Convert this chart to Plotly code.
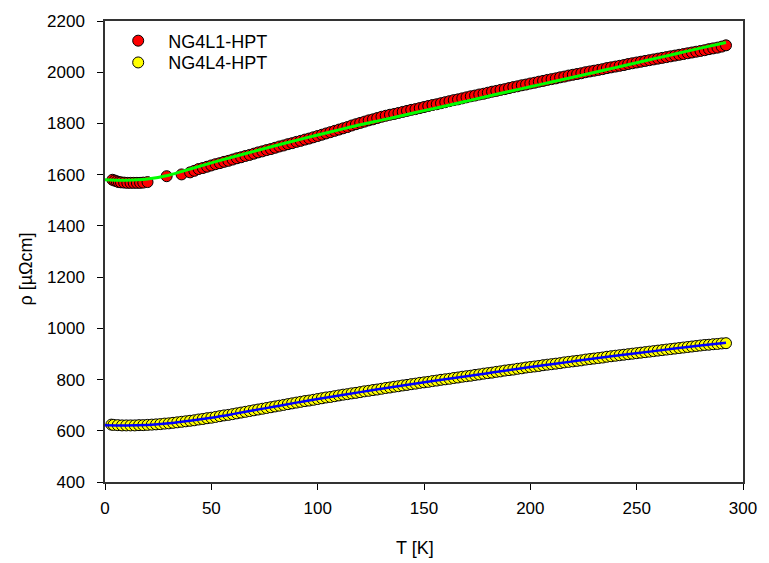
import plotly.graph_objects as go

# ---- Data ----
# NG4L1-HPT measured points
t_l1 = [3.5, 4.5, 5.5, 6.5, 7.5, 9, 10.5, 12, 13.5, 15, 16.5, 18, 20,
        29, 36, 40, 42,
        44, 46, 48, 50, 52, 54, 56, 58, 60, 62, 64, 66, 68, 70, 72, 74, 76, 78,
        80, 82, 84, 86, 88, 90, 92, 94, 96, 98, 100, 102, 104, 106, 108, 110,
        112, 114, 116, 118, 120, 122, 124, 126, 128, 130, 132, 134, 136, 138,
        140, 142, 144, 146, 148, 150, 152, 154, 156, 158, 160, 162, 164, 166,
        168, 170, 172, 174, 176, 178, 180, 182, 184, 186, 188, 190, 192, 194,
        196, 198, 200, 202, 204, 206, 208, 210, 212, 214, 216, 218, 220, 222,
        224, 226, 228, 230, 232, 234, 236, 238, 240, 242, 244, 246, 248, 250,
        252, 254, 256, 258, 260, 262, 264, 266, 268, 270, 272, 274, 276, 278,
        280, 282, 284, 286, 288, 290, 292]
rho_l1 = [1580, 1577, 1574, 1571, 1570, 1569, 1568, 1568, 1568, 1568, 1568, 1569, 1571,
          1594, 1601, 1609, 1615,
          1622, 1626, 1631, 1636, 1641, 1645, 1650, 1654, 1659, 1664, 1668, 1673,
          1677, 1682, 1687, 1691, 1696, 1700, 1705, 1710, 1714, 1719, 1723, 1728,
          1732, 1737, 1741, 1746, 1751, 1756, 1761, 1766, 1771, 1776, 1781, 1786,
          1792, 1797, 1802, 1807, 1812, 1816, 1821, 1826, 1830, 1834, 1837, 1841,
          1845, 1849, 1853, 1856, 1860, 1864, 1868, 1872, 1875, 1879, 1883, 1887,
          1891, 1894, 1898, 1902, 1906, 1909, 1913, 1916, 1920, 1924, 1927, 1931,
          1934, 1938, 1942, 1945, 1949, 1952, 1956, 1959, 1963, 1966, 1970, 1973,
          1976, 1980, 1983, 1987, 1990, 1993, 1996, 2000, 2003, 2006, 2009, 2012,
          2016, 2019, 2022, 2025, 2028, 2032, 2035, 2038, 2041, 2044, 2047, 2050,
          2053, 2056, 2059, 2062, 2065, 2068, 2071, 2074, 2077, 2080, 2083, 2086,
          2090, 2093, 2096, 2100, 2105]

# NG4L1-HPT fit curve
t_fit1 = [0, 10, 20, 30, 40, 50, 60, 70, 80, 90, 100, 110, 120, 130, 140, 150,
          160, 170, 180, 190, 200, 210, 220, 230, 240, 250, 260, 270, 280, 292]
rho_fit1 = [1580, 1578, 1583, 1598, 1622, 1646, 1669, 1691, 1713, 1734, 1755,
            1775, 1795, 1813, 1831, 1850, 1868, 1887, 1906, 1925, 1943, 1962,
            1980, 1999, 2018, 2037, 2056, 2075, 2094, 2116]

# NG4L4-HPT measured points
t_l4 = [3, 4, 6, 8, 10, 12, 14, 16, 18, 20, 22, 24, 26, 28, 30, 32, 34, 36, 38,
        40, 42, 44, 46, 48, 50, 52, 54, 56, 58, 60, 62, 64, 66, 68, 70, 72, 74,
        76, 78, 80, 82, 84, 86, 88, 90, 92, 94, 96, 98, 100, 102, 104, 106, 108,
        110, 112, 114, 116, 118, 120, 122, 124, 126, 128, 130, 132, 134, 136,
        138, 140, 142, 144, 146, 148, 150, 152, 154, 156, 158, 160, 162, 164,
        166, 168, 170, 172, 174, 176, 178, 180, 182, 184, 186, 188, 190, 192,
        194, 196, 198, 200, 202, 204, 206, 208, 210, 212, 214, 216, 218, 220,
        222, 224, 226, 228, 230, 232, 234, 236, 238, 240, 242, 244, 246, 248,
        250, 252, 254, 256, 258, 260, 262, 264, 266, 268, 270, 272, 274, 276,
        278, 280, 282, 284, 286, 288, 290, 292]
rho_l4 = [624, 623, 622, 621, 621, 621, 621, 622, 622, 623, 624, 625, 626, 628,
          629, 631, 633, 635, 637, 639, 641, 644, 646, 649, 651, 654, 657, 660,
          662, 665, 668, 671, 674, 677, 680, 683, 686, 689, 692, 695, 698, 701,
          704, 707, 710, 713, 716, 718, 721, 724, 727, 730, 732, 735, 738, 741,
          743, 746, 748, 751, 754, 756, 759, 761, 764, 767, 769, 772, 774, 777,
          779, 782, 784, 787, 789, 791, 794, 796, 799, 801, 803, 806, 808, 811,
          813, 815, 818, 820, 823, 825, 827, 830, 832, 835, 837, 839, 842, 844,
          847, 849, 851, 853, 856, 858, 860, 862, 864, 867, 869, 871, 873, 875,
          878, 880, 882, 884, 886, 889, 891, 893, 895, 897, 899, 901, 903, 905,
          907, 909, 911, 913, 915, 917, 919, 921, 923, 925, 927, 929, 931, 933,
          935, 936, 938, 939, 941, 942]

# NG4L4-HPT fit curve
t_fit4 = [0, 10, 20, 30, 40, 50, 60, 70, 80, 90, 100, 120, 140, 160, 180, 200,
          220, 240, 260, 280, 292]
rho_fit4 = [622, 621, 623, 629, 639, 651, 665, 680, 695, 710, 724, 751, 777,
            801, 825, 849, 871, 893, 913, 933, 944]

names = ["NG4L1-HPT", "NG4L4-HPT"]
x_title = "T [K]"
y_title = "ρ [µΩcm]"

FONT = "Liberation Sans, Arial, sans-serif"

fig = go.Figure()
fig.add_trace(go.Scatter(
    x=t_l1, y=rho_l1, mode="markers", name=names[0], legend="legend",
    marker=dict(size=11, color="#ff0000", line=dict(color="black", width=1))))
fig.add_trace(go.Scatter(
    x=t_l4, y=rho_l4, mode="markers", name=names[1], legend="legend2",
    marker=dict(size=11, color="#ffff00", line=dict(color="black", width=1))))
fig.add_trace(go.Scatter(
    x=t_fit1, y=rho_fit1, mode="lines", showlegend=False,
    line=dict(color="#00ff00", width=3, shape="spline")))
fig.add_trace(go.Scatter(
    x=t_fit4, y=rho_fit4, mode="lines", showlegend=False,
    line=dict(color="#0000ff", width=2.5, shape="spline")))

axis_common = dict(
    showgrid=False, zeroline=False, showline=True, linecolor="#333333",
    linewidth=1.5, mirror=True, ticks="outside", ticklen=6, tickwidth=1,
    tickcolor="black", tickfont=dict(family=FONT, size=17, color="black"),
)
fig.update_xaxes(range=[0, 300], dtick=50, tick0=0, ticklabelstandoff=4,
                 **axis_common)
fig.update_yaxes(range=[400, 2200], dtick=200, tick0=400, ticklabelstandoff=9,
                 **axis_common)

fig.add_annotation(text=x_title, xref="paper", yref="paper",
                   x=(420 - 105) / 648, y=(482 - 549) / 466,
                   xanchor="center", yanchor="middle", showarrow=False,
                   font=dict(family=FONT, size=18, color="black"))
fig.add_annotation(text=y_title, xref="paper", yref="paper",
                   x=(25 - 105) / 648, y=(482 - 267) / 466, textangle=-90,
                   xanchor="center", yanchor="middle", showarrow=False,
                   font=dict(family=FONT, size=18, color="black"))

leg_common = dict(xanchor="left", yanchor="top", itemwidth=50,
                  bgcolor="rgba(0,0,0,0)", font=dict(family=FONT, size=18))
fig.update_layout(
    width=769, height=563,
    margin=dict(l=105, r=16, t=16, b=81),
    paper_bgcolor="white", plot_bgcolor="white",
    font=dict(family=FONT, size=17, color="black"),
    legend=dict(x=0.005, y=(482 - 17.5) / 466, **leg_common),
    legend2=dict(x=0.005, y=(482 - 39.5) / 466, **leg_common),
)

fig.write_html("out.html")
